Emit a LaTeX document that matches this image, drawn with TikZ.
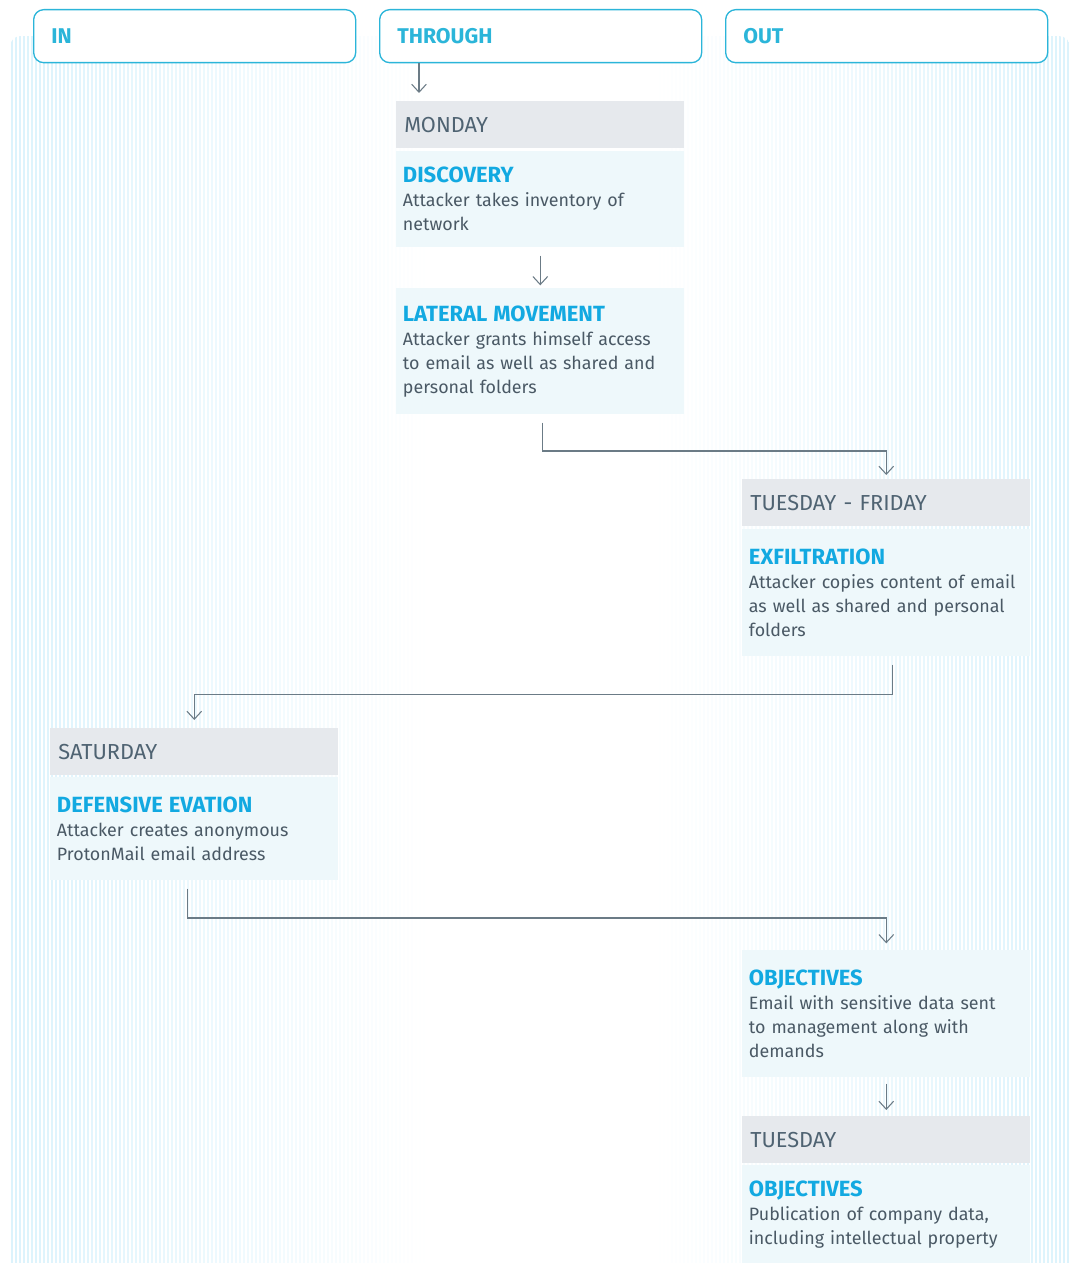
\documentclass[tikz,border=0pt]{standalone}
\usepackage{fontspec}
\setmainfont{Fira Sans}
\usepackage{xcolor}
\usetikzlibrary{arrows.meta}

\definecolor{hdrcyan}{HTML}{2BB5D9}
\definecolor{titlecyan}{HTML}{12A9E1}
\definecolor{dayfill}{HTML}{E6E9ED}
\definecolor{dayink}{HTML}{4F6372}
\definecolor{evfill}{HTML}{EEF8FB}
\definecolor{bodyink}{HTML}{4A5965}
\definecolor{flowink}{HTML}{6B7B86}
\definecolor{stripe}{HTML}{CDEEFB}

\tikzset{
  colhead/.style={draw=hdrcyan,line width=1pt,fill=white,rounded corners=7.5pt,
    anchor=north west,minimum width=241.5pt,minimum height=39.75pt,
    text width=215pt,inner xsep=13pt,align=left,text=hdrcyan,
    font=\fontsize{16}{18}\selectfont\bfseries},
  dayhead/.style={fill=dayfill,anchor=north west,minimum height=35pt,
    text width=204pt,inner xsep=6pt,align=left,text=dayink,
    font=\fontsize{16.3}{18}\selectfont},
  evbox/.style={fill=evfill,anchor=north west,text width=206pt,inner xsep=5pt,
    align=left,text=bodyink,font=\fontsize{13.4}{18}\selectfont},
  flow/.style={draw=flowink,line width=0.8pt,-{Straight Barb[length=6pt,width=11pt]}}
}
\newcommand{\evtitle}[1]{{\color{titlecyan}\fontsize{16.5}{18}\selectfont\bfseries #1}}

\begin{document}
\begin{tikzpicture}[x=0.75pt,y=-0.75pt]
\useasboundingbox (0,0) rectangle (1074,1263);

% striped backdrop
\begin{scope}
\clip[rounded corners=8pt] (10,36) rectangle (1070,1300);
\foreach \i in {0,...,264}{
  \pgfmathsetmacro{\xx}{11+4*\i}
  \pgfmathsetmacro{\op}{0.7*(max(0,1-(\xx-10)/420)+max(0,1-(1070-\xx)/420))}
  \fill[stripe,opacity=\op] (\xx,36) rectangle (\xx+2,1263);
}
\end{scope}

% column headers
\node[colhead] (in) at (33,9) {IN};
\node[colhead] (through) at (379,9) {THROUGH};
\node[colhead] (out) at (725,9) {OUT};

% monday
\node[dayhead] (mon) at (396,101) {MONDAY};
\node[evbox,minimum height=72pt] (disc) at (396,151)
  {\evtitle{DISCOVERY}\\Attacker takes inventory of\\network};
\node[evbox,minimum height=94.5pt] (lat) at (396,288)
  {\evtitle{LATERAL MOVEMENT}\\Attacker grants himself access\\to email as well as shared and\\personal folders};

% tuesday - friday
\node[dayhead] (tuefri) at (742,479) {TUESDAY - FRIDAY};
\node[evbox,minimum height=95.25pt] (exfil) at (742,529)
  {\evtitle{EXFILTRATION}\\Attacker copies content of email\\as well as shared and personal\\folders};

% saturday
\node[dayhead] (sat) at (50,728) {SATURDAY};
\node[evbox,minimum height=77.25pt] (defev) at (50,777)
  {\evtitle{DEFENSIVE EVATION}\\Attacker creates anonymous\\ProtonMail email address};

% objectives
\node[evbox,minimum height=95.25pt] (obj) at (742,950)
  {\evtitle{OBJECTIVES}\\Email with sensitive data sent\\to management along with\\demands};
\node[dayhead] (tue) at (742,1116) {TUESDAY};
\node[evbox,minimum height=73.5pt] (pub) at (742,1165)
  {\evtitle{OBJECTIVES}\\Publication of company data,\\including intellectual property};

% connectors
\draw[flow] ([xshift=30pt]through.south west) coordinate (t1) -- ([yshift=6pt]t1 |- mon.north);
\draw[flow] ([yshift=-6pt]disc.south) -- ([yshift=2pt]lat.north);
\draw[flow] ([xshift=2pt,yshift=-6pt]lat.south) |- ([yshift=21pt]tuefri.north) -- ([yshift=3pt]tuefri.north);
\draw[flow] ([xshift=5pt,yshift=-6pt]exfil.south) |- ([yshift=25pt]sat.north) -- ([yshift=6pt]sat.north);
\draw[flow] ([xshift=-5pt,yshift=-6pt]defev.south) |- ([yshift=24pt]obj.north) -- ([yshift=5pt]obj.north);
\draw[flow] ([yshift=-4.5pt]obj.south) -- ([yshift=4.5pt]tue.north);
\end{tikzpicture}
\end{document}
